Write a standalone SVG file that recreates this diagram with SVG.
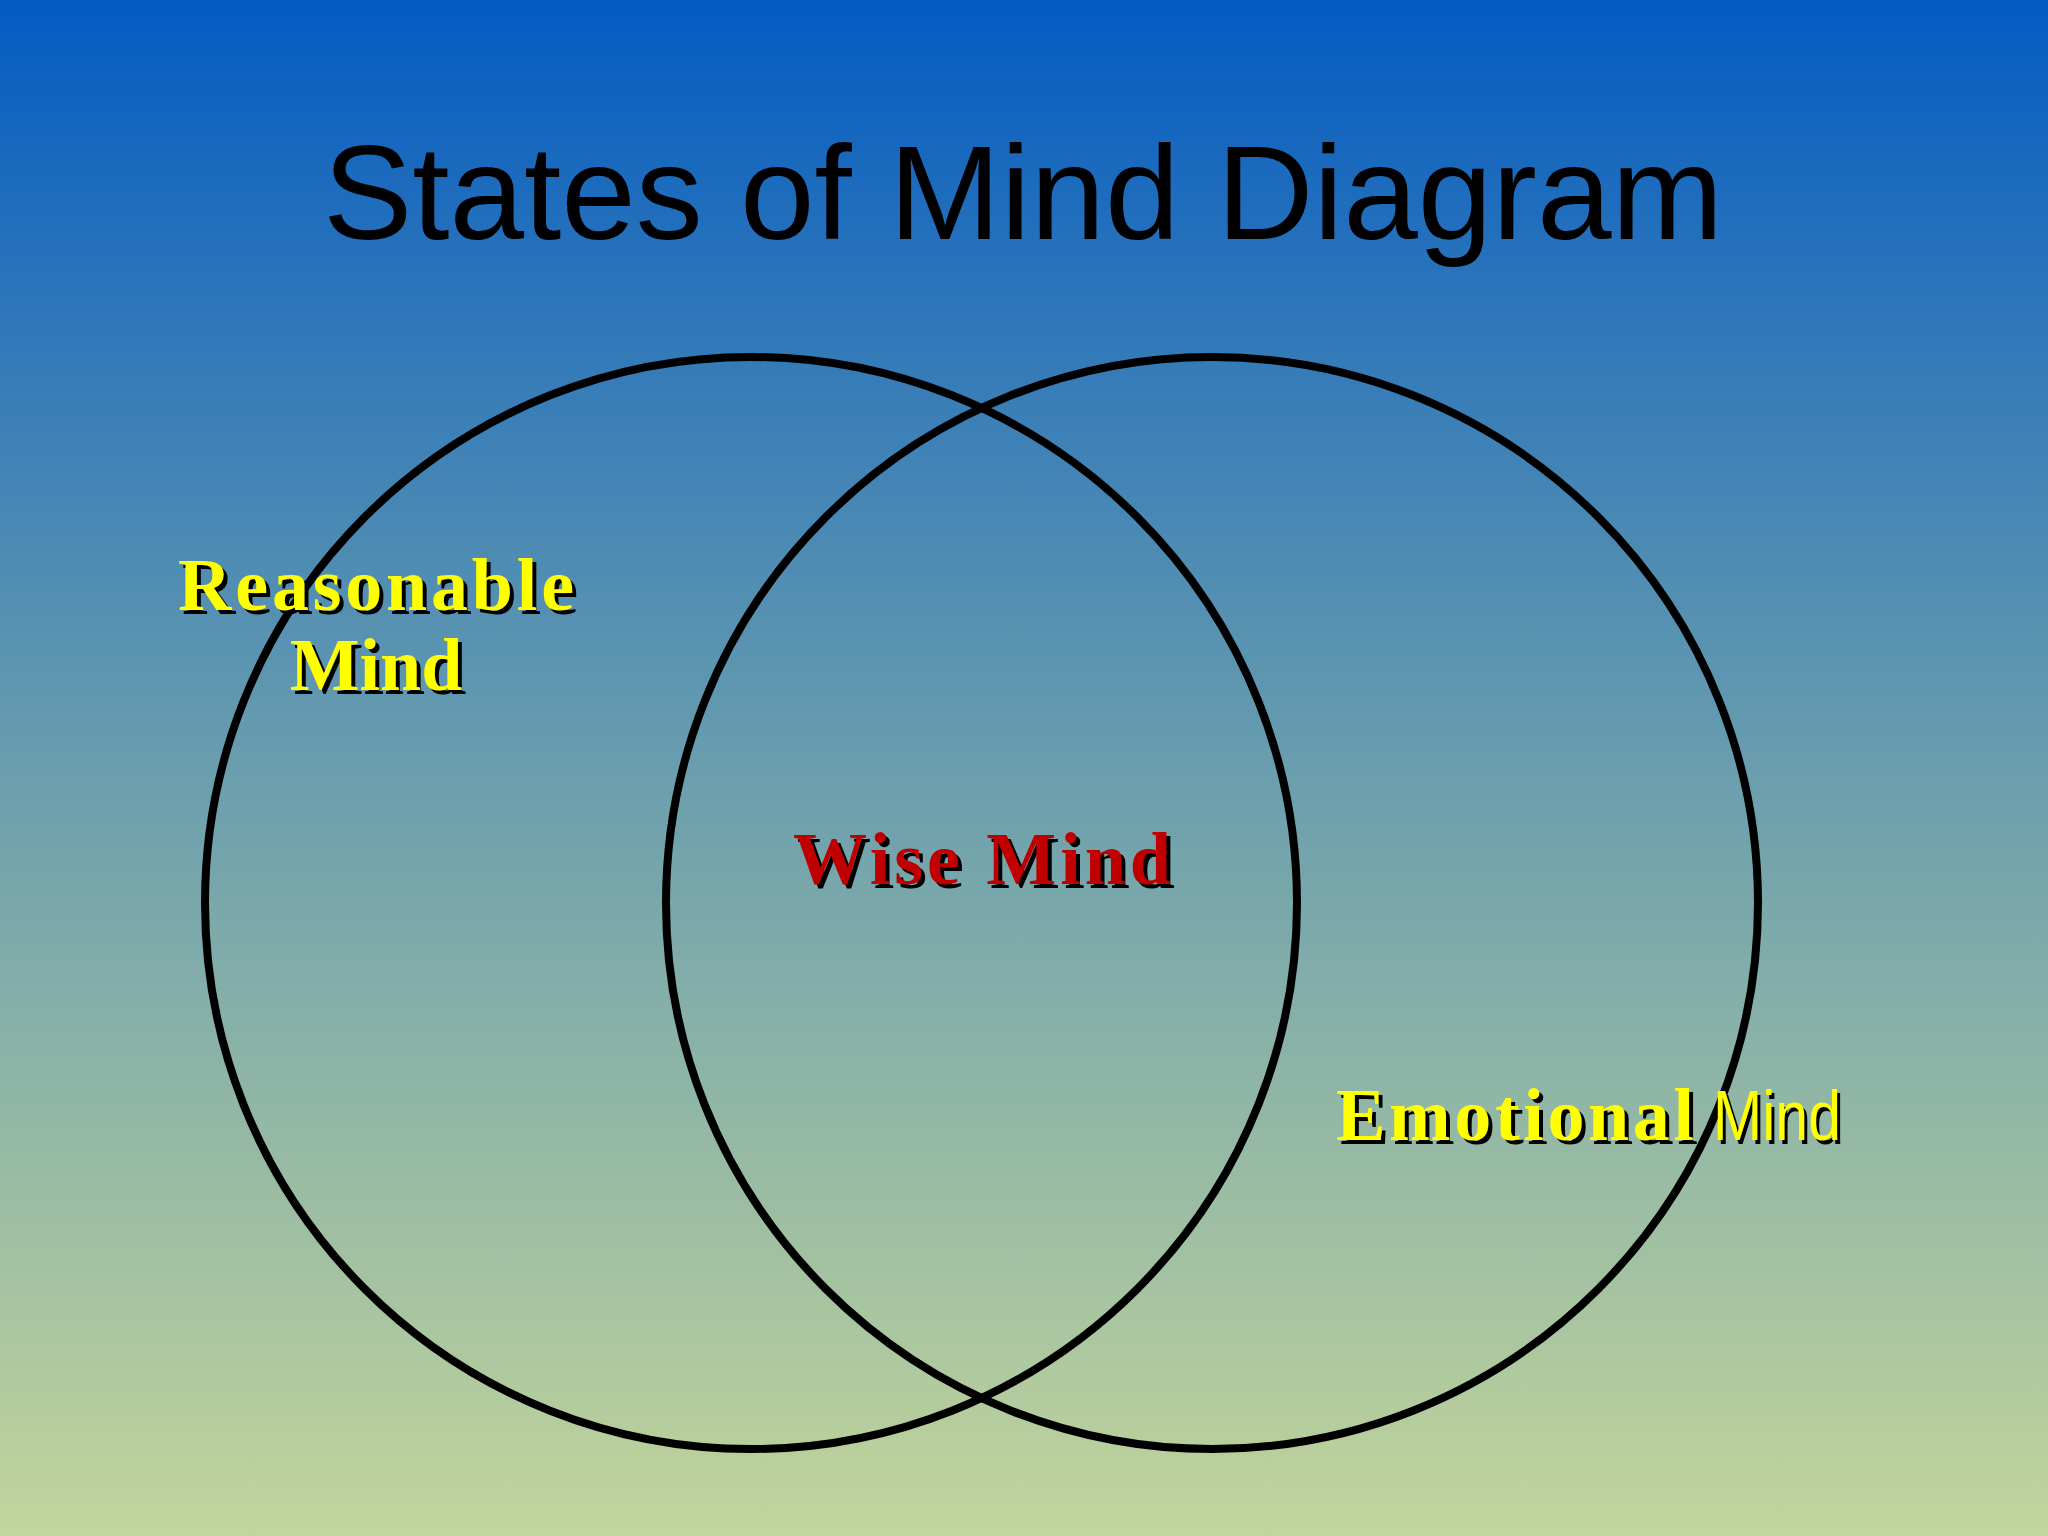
<svg xmlns="http://www.w3.org/2000/svg" width="2048" height="1536" viewBox="0 0 2048 1536">
<defs>
<linearGradient id="bg" x1="0" y1="0" x2="0" y2="1">
<stop offset="0" stop-color="#045bc2"/>
<stop offset="0.5" stop-color="#6a9eae"/>
<stop offset="1" stop-color="#c2d59b"/>
</linearGradient>
</defs>
<style>
.c{fill:none;stroke:#000;stroke-width:8}
.lbl{font-family:"Liberation Serif",serif;font-weight:bold;font-size:74px}
.sh{fill:#000}
.y{fill:#ffff00}
.r{fill:#c00000}
</style>
<rect width="2048" height="1536" fill="url(#bg)"/>
<text x="1023" y="239" text-anchor="middle" font-family="Liberation Sans,Arial,sans-serif" font-size="134" fill="#000">States of Mind Diagram</text>
<g id="left-circle"><circle class="c" cx="751" cy="903" r="546"/></g>
<g id="right-circle"><circle class="c" cx="1212" cy="903" r="546"/></g>
<g id="reasonable">
<text class="lbl sh" x="380" y="614" text-anchor="middle" textLength="396">Reasonable</text>
<text class="lbl y" x="376" y="610" text-anchor="middle" textLength="396">Reasonable</text>
<text class="lbl sh" x="380" y="694" text-anchor="middle">Mind</text>
<text class="lbl y" x="376" y="690" text-anchor="middle">Mind</text>
</g>
<g id="wise">
<text class="lbl sh" x="986" y="888" text-anchor="middle" textLength="378">Wise Mind</text>
<text class="lbl r" x="982" y="884" text-anchor="middle" textLength="378">Wise Mind</text>
</g>
<g id="emotional">
<text class="lbl sh" x="1340" y="1144" textLength="358">Emotional</text>
<text class="lbl y" x="1336" y="1140" textLength="358">Emotional</text>
<text x="1716" y="1144" font-family="Liberation Sans Narrow,Liberation Sans,sans-serif" font-size="70" textLength="128" lengthAdjust="spacingAndGlyphs" fill="#000">Mind</text>
<text x="1713" y="1140" font-family="Liberation Sans Narrow,Liberation Sans,sans-serif" font-size="70" textLength="128" lengthAdjust="spacingAndGlyphs" fill="#ffff00">Mind</text>
</g>
<g id="connectors"/>
</svg>
